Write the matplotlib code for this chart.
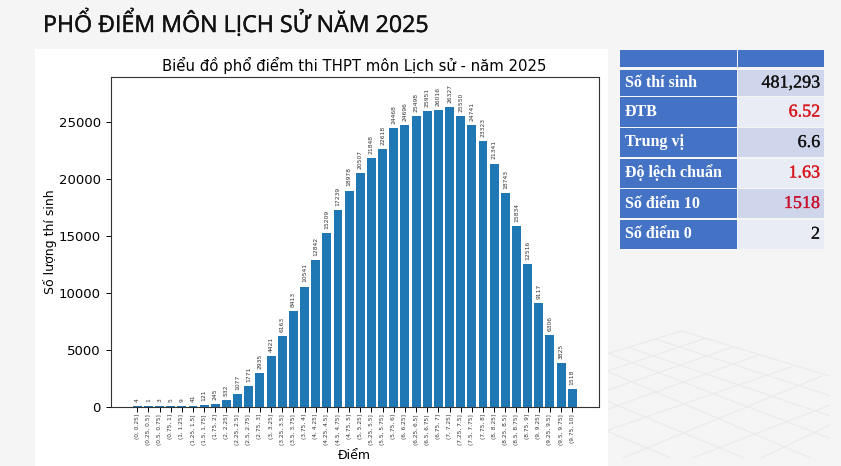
import matplotlib
matplotlib.use("Agg")
import matplotlib.pyplot as plt
import matplotlib.patheffects as pe
from matplotlib.patches import Rectangle
from matplotlib.transforms import Affine2D

W, H = 841, 466
bins = ["(0, 0.25]", "(0.25, 0.5]", "(0.5, 0.75]", "(0.75, 1]", "(1, 1.25]", "(1.25, 1.5]", "(1.5, 1.75]", "(1.75, 2]",
        "(2, 2.25]", "(2.25, 2.5]", "(2.5, 2.75]", "(2.75, 3]", "(3, 3.25]", "(3.25, 3.5]", "(3.5, 3.75]", "(3.75, 4]",
        "(4, 4.25]", "(4.25, 4.5]", "(4.5, 4.75]", "(4.75, 5]", "(5, 5.25]", "(5.25, 5.5]", "(5.5, 5.75]", "(5.75, 6]",
        "(6, 6.25]", "(6.25, 6.5]", "(6.5, 6.75]", "(6.75, 7]", "(7, 7.25]", "(7.25, 7.5]", "(7.5, 7.75]", "(7.75, 8]",
        "(8, 8.25]", "(8.25, 8.5]", "(8.5, 8.75]", "(8.75, 9]", "(9, 9.25]", "(9.25, 9.5]", "(9.5, 9.75]", "(9.75, 10]"]
counts = [4, 1, 3, 5, 9, 41, 121, 245, 532, 1077, 1771, 2935, 4421, 6163, 8413, 10541, 12842, 15209, 17239, 18978,
          20507, 21848, 22618, 24468, 24696, 25498, 25951, 26016, 26327, 25550, 24741, 23323, 21341, 18743, 15834,
          12516, 9117, 6306, 3825, 1518]
stat_names = ["Số thí sinh", "ĐTB", "Trung vị", "Độ lệch chuẩn", "Số điểm 10", "Số điểm 0"]
stat_values = ["481,293", "6.52", "6.6", "1.63", "1518", "2"]
stat_colors = ["#111111", "#d8141c", "#111111", "#d8141c", "#c8102e", "#111111"]

fig = plt.figure(figsize=(W / 100, H / 100), dpi=100, facecolor="#f5f5f5")
px = Affine2D().scale(1, -1).translate(0, H)  # pixel coordinates, y down


def rect(x0, y0, x1, y1, color, zorder=1):
    fig.add_artist(Rectangle((x0, y0), x1 - x0, y1 - y0, transform=px, facecolor=color, edgecolor="none", zorder=zorder))


# faint floor grid, bottom right
grid_desc = [((245, 3), (690, 138)), ((165, 27), (690, 197)), ((85, 52), (690, 258)), ((25, 70), (690, 325)),
             ((25, 125), (630, 383)), ((25, 215), (430, 383)), ((25, 305), (210, 383))]
grid_asc = [((25, 70), (245, 3)), ((25, 122), (315, 25)), ((25, 180), (395, 52)), ((25, 237), (475, 75)),
            ((25, 300), (575, 110)), ((70, 383), (665, 138)), ((280, 383), (690, 225)), ((485, 383), (690, 285))]
for (a, b) in grid_desc + grid_asc:
    fig.add_artist(plt.Line2D([600 + a[0] / 3, 600 + b[0] / 3], [330 + a[1] / 3, 330 + b[1] / 3], transform=px,
                              color="#ebebeb", lw=0.9, zorder=0))

rect(35, 49, 608, 466, "white", zorder=0.5)

t = plt.Text(43, 32, "PHỔ ĐIỂM MÔN LỊCH SỬ NĂM 2025", family="Open Sans", fontsize=16.7, color="#111111",
             transform=px, ha="left", va="baseline", zorder=3)
t.set_path_effects([pe.withStroke(linewidth=0.3, foreground="#111111")])
fig.add_artist(t)

ax = fig.add_axes([110.5 / W, 1 - 406.5 / H, (599 - 110.5) / W, (406.5 - 76.5) / H], zorder=2)
x = list(range(len(bins)))
ax.bar(x, counts, width=0.8, color="#1f77b4")
ax.set_xlim(-2.4, 41.4)
ax.set_ylim(0, 29000)
for xi, c in zip(x, counts):
    ax.annotate(str(c), (xi, c), xytext=(0, 3), textcoords="offset points", rotation=90, ha="center", va="bottom",
                fontsize=4.3, color="#333333")
ax.set_xticks(x)
ax.set_xticklabels(bins, rotation=90, fontsize=4.2, color="#333333")
ax.tick_params(axis="x", length=3.5, width=0.7, pad=2)
ax.tick_params(axis="y", labelsize=9.5, length=3.5, width=0.7)
ax.set_title("Biểu đồ phổ điểm thi THPT môn Lịch sử - năm 2025", fontsize=10.75, pad=4)
ax.set_xlabel("Điểm", fontsize=9, labelpad=3)
ax.set_ylabel("Số lượng thí sinh", fontsize=9, labelpad=1)
for s in ax.spines.values():
    s.set_linewidth(0.8)
    s.set_color("#333333")

# stats table
col0 = (620, 736.5)
col1 = (738, 824)
rows = [(70, 96), (97, 127), (128, 157), (158.5, 187.5), (189, 218), (219.5, 249)]
rect(col0[0], 49.5, col0[1], 66.5, "#4472c4")
rect(col1[0], 49.5, col1[1], 66.5, "#4472c4")
for i, (name, val, colr, (y0, y1)) in enumerate(zip(stat_names, stat_values, stat_colors, rows)):
    rect(col0[0], y0, col0[1], y1, "#4472c4")
    rect(col1[0], y0, col1[1], y1, "#cfd5ea" if i % 2 == 0 else "#e9ebf5")
    ym = (y0 + y1) / 2
    fig.add_artist(plt.Text(625, ym, name, family="Liberation Serif", weight="bold", fontsize=11.5, color="white",
                            transform=px, ha="left", va="center", zorder=3))
    vt = plt.Text(820, ym, val, family="Liberation Serif", fontsize=13, color=colr,
                  transform=px, ha="right", va="center", zorder=3)
    vt.set_path_effects([pe.withStroke(linewidth=0.2, foreground=colr)])
    fig.add_artist(vt)

fig.savefig("out.png", dpi=100, facecolor=fig.get_facecolor())
